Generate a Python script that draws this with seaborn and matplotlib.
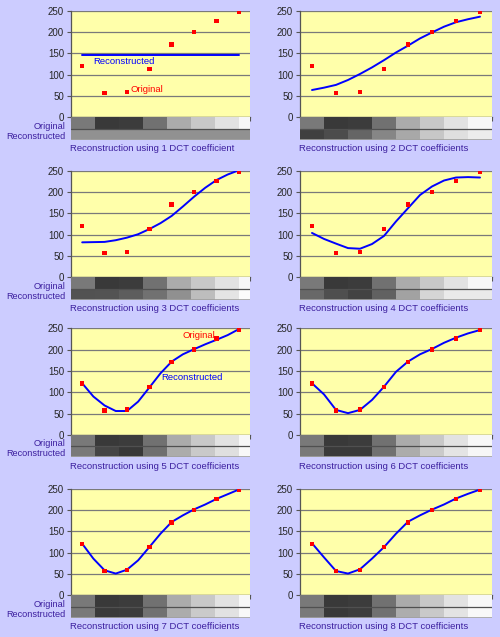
import numpy as np
import pandas as pd
import matplotlib
matplotlib.use('Agg')
import matplotlib.pyplot as plt
import seaborn as sns

sns.set_theme(style='white')
plt.rcParams['font.family'] = ['Liberation Sans', 'DejaVu Sans']

# grey levels of the 8 samples
original = [121, 57, 60, 113, 171, 200, 226, 247]

# reconstructed curves, read at half-sample steps
curve_x = [0, 0.5, 1, 1.5, 2, 2.5, 3, 3.5, 4, 4.5, 5, 5.5, 6, 6.5, 7]
recon_1 = [145, 145, 145, 145, 145, 145, 145, 145, 145, 145, 145, 145, 145, 145, 145]
recon_2 = [64, 69.5, 76, 87.5, 101.6, 117, 134, 152, 168, 185, 199, 212.5, 223, 230, 236]
recon_3 = [82, 82.5, 83, 87, 93, 101, 113, 127, 144, 166, 189, 210, 228, 241, 251]
recon_4 = [104, 90, 79, 68.5, 67, 78, 97, 131, 162, 193, 213, 227, 234, 235, 234]
recon_5 = [121, 90, 69, 56, 56, 78, 111, 144.5, 172, 189, 201, 212.5, 223, 234, 248]
recon_6 = [121, 95, 58.6, 51, 58.6, 82, 113, 148, 172, 189, 201.5, 216, 228, 238, 246]
recon_7 = [121, 86, 58.6, 51, 60, 82, 113, 144.5, 172, 187.5, 201.5, 213, 226, 237, 248]
recon_8 = [122, 89, 57, 51, 61, 86, 113, 144.5, 172.6, 187.5, 201, 213, 227, 238, 248]
recons = [recon_1, recon_2, recon_3, recon_4, recon_5, recon_6, recon_7, recon_8]
n_coeffs = [1, 2, 3, 4, 5, 6, 7, 8]
row_names = ['Original', 'Reconstructed']

BG = '#ccccff'
PLOT_BG = '#ffffaa'
LABEL = '#3c1f9f'
W, H = 500, 637
FS = 6.8

fig = plt.figure(figsize=(5, 6.37), dpi=100, facecolor=BG)

row_top = [10.7, 170.7, 328.3, 488.7]
plot_h = 106.6
tile_h = 22.5


def fbox(x0, y0, x1, y1):
    return [x0 / W, 1 - y1 / H, (x1 - x0) / W, (y1 - y0) / H]


for k, (n, rec) in enumerate(zip(n_coeffs, recons)):
    row, col = k // 2, k % 2
    top = row_top[row]
    if col == 0:
        x0, x1, xmax = 71, 250, 7 - 1 / 24
    else:
        x0, x1, xmax = 300, 492, 7.5

    ax = fig.add_axes(fbox(x0, top, x1, top + plot_h))
    ax.set_facecolor(PLOT_BG)
    ax.yaxis.grid(True, color='#7a7a7a', lw=0.9)
    ax.set_axisbelow(True)
    sns.lineplot(x=curve_x, y=rec, color='#0000ff', lw=1.4, ax=ax)
    sns.scatterplot(x=list(range(8)), y=original, marker='s', color='#ff0000',
                    s=10, edgecolor='none', ax=ax, zorder=3)
    ax.set_xlim(-0.5, xmax)
    ax.set_ylim(0, 250)
    ax.set_yticks([0, 50, 100, 150, 200, 250])
    ax.set_xticks(np.arange(-0.5, 8, 1))
    ax.set_xticklabels([])
    ax.tick_params(axis='y', direction='out', length=3, width=0.8, color='#555555',
                   labelsize=7, pad=2, left=True)
    ax.tick_params(axis='x', direction='out', length=3, width=0.8, color='#555555', bottom=True)
    for s in ['top', 'right']:
        ax.spines[s].set_visible(False)
    for s in ['left', 'bottom']:
        ax.spines[s].set_color('#555555')
        ax.spines[s].set_linewidth(0.9)

    tiles = pd.DataFrame([original, rec[::2]], index=row_names)
    tax = fig.add_axes(fbox(x0, top + plot_h, x1, top + plot_h + tile_h))
    sns.heatmap(tiles, ax=tax, cmap='gray', vmin=0, vmax=255, cbar=False,
                xticklabels=False, yticklabels=(col == 0))
    tax.set_xlim(0, xmax + 0.5)
    tax.axhline(1, color='#505050', lw=0.9)
    tax.axhline(2, color='#a0a0a0', lw=1.2)
    tax.tick_params(axis='y', length=0, pad=4, labelsize=6.6, labelcolor=LABEL)
    if col == 0:
        tax.set_yticks([0.8, 1.68])
        tax.set_yticklabels(row_names)
        for t in tax.get_yticklabels():
            t.set_rotation(0)
            t.set_va('center')

    title = f'Reconstruction using {n} DCT coefficient' + ('s' if n > 1 else '')
    fig.text(x0 / W - 0.002, 1 - (top + plot_h + 31.5) / H, title,
             color=LABEL, fontsize=FS, va='center', ha='left')

    if n == 1:
        ax.text(0.5, 132, 'Reconstructed', color='#0000ff', fontsize=FS, va='center')
        ax.text(2.17, 66, 'Original', color='#ff0000', fontsize=FS, va='center')
    if n == 5:
        ax.text(4.5, 234, 'Original', color='#ff0000', fontsize=FS, va='center')
        ax.text(3.54, 134, 'Reconstructed', color='#0000ff', fontsize=FS, va='center')

fig.savefig('out.png', dpi=100, facecolor=BG)
